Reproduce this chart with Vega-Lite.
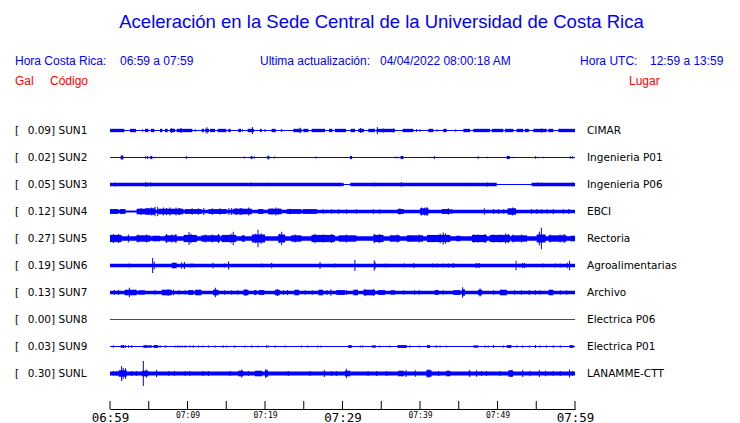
{
  "$schema": "https://vega.github.io/schema/vega-lite/v6.json",
  "width": 465,
  "height": 409,
  "autosize": {"type": "none"},
  "padding": {"left": 110, "top": 0, "right": 165, "bottom": 14},
  "background": "white",
  "config": {"view": {"stroke": null}},
  "datasets": {
    "stations": [
      {"code": "SUN1", "gal": 0.09, "place": "CIMAR"},
      {"code": "SUN2", "gal": 0.02, "place": "Ingenieria P01"},
      {"code": "SUN3", "gal": 0.05, "place": "Ingenieria P06"},
      {"code": "SUN4", "gal": 0.12, "place": "EBCI"},
      {"code": "SUN5", "gal": 0.27, "place": "Rectoria"},
      {"code": "SUN6", "gal": 0.19, "place": "Agroalimentarias"},
      {"code": "SUN7", "gal": 0.13, "place": "Archivo"},
      {"code": "SUN8", "gal": 0.00, "place": "Electrica P06"},
      {"code": "SUN9", "gal": 0.03, "place": "Electrica P01"},
      {"code": "SUNL", "gal": 0.30, "place": "LANAMME-CTT"}
    ],
    "axisTicks": [{"m":0},{"m":5},{"m":10},{"m":15},{"m":20},{"m":25},{"m":30},{"m":35},{"m":40},{"m":45},{"m":50},{"m":55},{"m":60}],
    "bands": [
      {"s":"SUN1","t0":0,"t1":1.85,"p":0.042},{"s":"SUN1","t0":2.58,"t1":3.35,"p":0.042},{"s":"SUN1","t0":4.52,"t1":4.95,"p":0.042},{"s":"SUN1","t0":5.29,"t1":5.72,"p":0.042},{"s":"SUN1","t0":6.45,"t1":6.75,"p":0.042},{"s":"SUN1","t0":7.1,"t1":7.44,"p":0.042},{"s":"SUN1","t0":7.74,"t1":8.39,"p":0.042},{"s":"SUN1","t0":8.6,"t1":10.62,"p":0.042},{"s":"SUN1","t0":11.83,"t1":12.13,"p":0.042},{"s":"SUN1","t0":12.26,"t1":12.77,"p":0.042},{"s":"SUN1","t0":12.9,"t1":13.55,"p":0.042},{"s":"SUN1","t0":13.89,"t1":15.01,"p":0.042},{"s":"SUN1","t0":15.27,"t1":15.57,"p":0.042},{"s":"SUN1","t0":16.56,"t1":16.9,"p":0.042},{"s":"SUN1","t0":17.76,"t1":18.58,"p":0.042},{"s":"SUN1","t0":19.35,"t1":19.57,"p":0.042},{"s":"SUN1","t0":20.86,"t1":21.38,"p":0.042},{"s":"SUN1","t0":23.66,"t1":24.73,"p":0.042},{"s":"SUN1","t0":24.95,"t1":25.59,"p":0.042},{"s":"SUN1","t0":26.02,"t1":27.74,"p":0.042},{"s":"SUN1","t0":28.26,"t1":28.69,"p":0.042},{"s":"SUN1","t0":29.03,"t1":30.45,"p":0.042},{"s":"SUN1","t0":31.05,"t1":31.61,"p":0.042},{"s":"SUN1","t0":32.04,"t1":32.77,"p":0.042},{"s":"SUN1","t0":33.33,"t1":34.19,"p":0.042},{"s":"SUN1","t0":34.41,"t1":36.77,"p":0.042},{"s":"SUN1","t0":37.76,"t1":39.14,"p":0.042},{"s":"SUN1","t0":41.08,"t1":41.72,"p":0.042},{"s":"SUN1","t0":43.01,"t1":43.44,"p":0.042},{"s":"SUN1","t0":45.59,"t1":46.45,"p":0.042},{"s":"SUN1","t0":46.88,"t1":49.03,"p":0.042},{"s":"SUN1","t0":49.25,"t1":50.75,"p":0.042},{"s":"SUN1","t0":50.97,"t1":52.04,"p":0.042},{"s":"SUN1","t0":52.47,"t1":53.33,"p":0.042},{"s":"SUN1","t0":53.55,"t1":53.98,"p":0.042},{"s":"SUN1","t0":54.62,"t1":56.34,"p":0.042},{"s":"SUN1","t0":56.56,"t1":57.2,"p":0.042},{"s":"SUN1","t0":57.85,"t1":60,"p":0.042},
      {"s":"SUN2","t0":1.38,"t1":1.72,"p":0.05},{"s":"SUN2","t0":5.2,"t1":5.46,"p":0.04},{"s":"SUN2","t0":18.15,"t1":18.37,"p":0.04},{"s":"SUN2","t0":20.3,"t1":20.56,"p":0.045},{"s":"SUN2","t0":30.97,"t1":31.23,"p":0.04},{"s":"SUN2","t0":37.5,"t1":37.85,"p":0.04},{"s":"SUN2","t0":51.2,"t1":51.6,"p":0.04},
      {"s":"SUN3","t0":0,"t1":30.0,"p":0.042},{"s":"SUN3","t0":31.0,"t1":49.9,"p":0.042},{"s":"SUN3","t0":54.4,"t1":60,"p":0.042},
      {"s":"SUN4","t0":0,"t1":1.94,"p":0.045},{"s":"SUN4","t0":1.94,"t1":3.44,"p":0.025},{"s":"SUN4","t0":3.44,"t1":60,"p":0.045},{"s":"SUN4","t0":0,"t1":1.08,"p":0.06},{"s":"SUN4","t0":1.3,"t1":2.0,"p":0.06},{"s":"SUN4","t0":3.44,"t1":4.52,"p":0.07},{"s":"SUN4","t0":4.52,"t1":5.81,"p":0.08},{"s":"SUN4","t0":6.24,"t1":9.46,"p":0.07},{"s":"SUN4","t0":9.68,"t1":11.83,"p":0.06},{"s":"SUN4","t0":12.7,"t1":15.05,"p":0.06},{"s":"SUN4","t0":15.9,"t1":18.3,"p":0.07},{"s":"SUN4","t0":19.1,"t1":19.8,"p":0.06},{"s":"SUN4","t0":20.4,"t1":22.15,"p":0.07},{"s":"SUN4","t0":22.8,"t1":24.7,"p":0.06},{"s":"SUN4","t0":24.9,"t1":26.7,"p":0.06},{"s":"SUN4","t0":37.1,"t1":37.9,"p":0.06},{"s":"SUN4","t0":40.0,"t1":41.1,"p":0.08},{"s":"SUN4","t0":42.8,"t1":43.9,"p":0.06},{"s":"SUN4","t0":51.3,"t1":52.4,"p":0.08},
      {"s":"SUN5","t0":0,"t1":60,"p":0.058},{"s":"SUN5","t0":0,"t1":1.5,"p":0.09},{"s":"SUN5","t0":3.4,"t1":5.2,"p":0.08},{"s":"SUN5","t0":5.5,"t1":6.45,"p":0.07},{"s":"SUN5","t0":7.1,"t1":8.6,"p":0.08},{"s":"SUN5","t0":9.5,"t1":11.2,"p":0.09},{"s":"SUN5","t0":11.8,"t1":14.2,"p":0.08},{"s":"SUN5","t0":14.4,"t1":16.3,"p":0.09},{"s":"SUN5","t0":17.0,"t1":17.4,"p":0.08},{"s":"SUN5","t0":18.3,"t1":20.0,"p":0.1},{"s":"SUN5","t0":21.7,"t1":22.6,"p":0.1},{"s":"SUN5","t0":23.4,"t1":24.7,"p":0.08},{"s":"SUN5","t0":26.0,"t1":29.0,"p":0.09},{"s":"SUN5","t0":29.5,"t1":31.8,"p":0.08},{"s":"SUN5","t0":34.0,"t1":35.3,"p":0.09},{"s":"SUN5","t0":36.1,"t1":37.4,"p":0.08},{"s":"SUN5","t0":38.3,"t1":40.4,"p":0.08},{"s":"SUN5","t0":40.9,"t1":43.9,"p":0.09},{"s":"SUN5","t0":44.7,"t1":45.2,"p":0.07},{"s":"SUN5","t0":46.7,"t1":48.6,"p":0.09},{"s":"SUN5","t0":49.0,"t1":51.6,"p":0.09},{"s":"SUN5","t0":51.8,"t1":53.8,"p":0.08},{"s":"SUN5","t0":55.05,"t1":56.2,"p":0.1},{"s":"SUN5","t0":56.6,"t1":58.9,"p":0.08},{"s":"SUN5","t0":59.4,"t1":60,"p":0.07},
      {"s":"SUN6","t0":0,"t1":60,"p":0.042},{"s":"SUN6","t0":7.96,"t1":8.6,"p":0.07},{"s":"SUN6","t0":47.1,"t1":47.5,"p":0.05},
      {"s":"SUN7","t0":0,"t1":60,"p":0.045},{"s":"SUN7","t0":1.9,"t1":3.44,"p":0.07},{"s":"SUN7","t0":3.66,"t1":4.5,"p":0.055},{"s":"SUN7","t0":6.67,"t1":7.96,"p":0.07},{"s":"SUN7","t0":10.1,"t1":10.75,"p":0.06},{"s":"SUN7","t0":11.0,"t1":11.8,"p":0.07},{"s":"SUN7","t0":13.3,"t1":14.0,"p":0.07},{"s":"SUN7","t0":17.2,"t1":17.85,"p":0.07},{"s":"SUN7","t0":18.6,"t1":18.9,"p":0.06},{"s":"SUN7","t0":19.2,"t1":19.9,"p":0.06},{"s":"SUN7","t0":21.3,"t1":21.9,"p":0.07},{"s":"SUN7","t0":23.8,"t1":24.4,"p":0.07},{"s":"SUN7","t0":26.9,"t1":27.5,"p":0.07},{"s":"SUN7","t0":29.2,"t1":30.3,"p":0.06},{"s":"SUN7","t0":31.4,"t1":32.0,"p":0.07},{"s":"SUN7","t0":32.7,"t1":34.2,"p":0.07},{"s":"SUN7","t0":34.6,"t1":35.5,"p":0.06},{"s":"SUN7","t0":36.2,"t1":36.8,"p":0.055},{"s":"SUN7","t0":41.9,"t1":42.4,"p":0.06},{"s":"SUN7","t0":44.3,"t1":45.2,"p":0.06},{"s":"SUN7","t0":45.4,"t1":45.8,"p":0.08},{"s":"SUN7","t0":47.5,"t1":48.0,"p":0.07},{"s":"SUN7","t0":50.3,"t1":51.2,"p":0.07},{"s":"SUN7","t0":56.6,"t1":57.2,"p":0.07},
      {"s":"SUN9","t0":1.4,"t1":1.85,"p":0.035},{"s":"SUN9","t0":4.3,"t1":4.86,"p":0.035},{"s":"SUN9","t0":4.9,"t1":5.4,"p":0.03},{"s":"SUN9","t0":5.6,"t1":6.2,"p":0.035},{"s":"SUN9","t0":30.75,"t1":31.2,"p":0.035},{"s":"SUN9","t0":33.8,"t1":34.3,"p":0.03},{"s":"SUN9","t0":37.1,"t1":38.3,"p":0.035},{"s":"SUN9","t0":40.9,"t1":41.3,"p":0.035},{"s":"SUN9","t0":46.9,"t1":47.5,"p":0.03},{"s":"SUN9","t0":51.2,"t1":51.8,"p":0.035},{"s":"SUN9","t0":59.3,"t1":59.8,"p":0.035},
      {"s":"SUNL","t0":0,"t1":60,"p":0.05},{"s":"SUNL","t0":1.1,"t1":2.15,"p":0.08},{"s":"SUNL","t0":4.1,"t1":4.95,"p":0.07},{"s":"SUNL","t0":16.56,"t1":17.2,"p":0.07},{"s":"SUNL","t0":18.7,"t1":19.6,"p":0.07},{"s":"SUNL","t0":20.0,"t1":20.4,"p":0.08},{"s":"SUNL","t0":30.3,"t1":31.0,"p":0.07},{"s":"SUNL","t0":37.2,"t1":37.9,"p":0.07},{"s":"SUNL","t0":40.8,"t1":41.5,"p":0.08},{"s":"SUNL","t0":43.4,"t1":43.9,"p":0.07},{"s":"SUNL","t0":46.3,"t1":46.5,"p":0.08},{"s":"SUNL","t0":51.4,"t1":52.0,"p":0.08}
    ],
    "spikes": [
      {"s":"SUN1","t":7.96,"p":0.06},{"s":"SUN1","t":9.16,"p":0.06},{"s":"SUN1","t":12.52,"p":0.08},{"s":"SUN1","t":18.37,"p":0.09},{"s":"SUN1","t":20.0,"p":0.04},{"s":"SUN1","t":22.15,"p":0.04},{"s":"SUN1","t":24.52,"p":0.07},{"s":"SUN1","t":32.34,"p":0.06},{"s":"SUN1","t":34.49,"p":0.09},{"s":"SUN1","t":35.27,"p":0.05},{"s":"SUN1","t":36.56,"p":0.05},{"s":"SUN1","t":39.57,"p":0.04},{"s":"SUN1","t":55.7,"p":0.05},{"s":"SUN1","t":4.2,"p":0.03},{"s":"SUN1","t":11.0,"p":0.03},{"s":"SUN1","t":17.1,"p":0.03},{"s":"SUN1","t":40.0,"p":0.03},{"s":"SUN1","t":42.2,"p":0.03},{"s":"SUN1","t":44.6,"p":0.03},{"s":"SUN1","t":54.0,"p":0.03},
      {"s":"SUN2","t":4.6,"p":0.03},{"s":"SUN2","t":4.86,"p":0.04},{"s":"SUN2","t":5.8,"p":0.02},{"s":"SUN2","t":9.85,"p":0.04},{"s":"SUN2","t":17.33,"p":0.025},{"s":"SUN2","t":18.6,"p":0.03},{"s":"SUN2","t":21.2,"p":0.025},{"s":"SUN2","t":26.6,"p":0.025},{"s":"SUN2","t":36.9,"p":0.025},{"s":"SUN2","t":37.2,"p":0.02},{"s":"SUN2","t":41.3,"p":0.02},{"s":"SUN2","t":41.85,"p":0.04},{"s":"SUN2","t":47.5,"p":0.03},{"s":"SUN2","t":48.7,"p":0.02},{"s":"SUN2","t":52.0,"p":0.02},{"s":"SUN2","t":54.9,"p":0.03},{"s":"SUN2","t":55.2,"p":0.02},{"s":"SUN2","t":55.9,"p":0.02},{"s":"SUN2","t":59.4,"p":0.03},{"s":"SUN2","t":59.7,"p":0.03},
      {"s":"SUN3","t":0.65,"p":0.05},{"s":"SUN3","t":4.6,"p":0.055},{"s":"SUN3","t":4.8,"p":0.05},{"s":"SUN3","t":5.25,"p":0.05},{"s":"SUN3","t":18.2,"p":0.05},{"s":"SUN3","t":20.3,"p":0.045},{"s":"SUN3","t":30.1,"p":0.045},{"s":"SUN3","t":34.1,"p":0.05},{"s":"SUN3","t":37.6,"p":0.055},{"s":"SUN3","t":46.5,"p":0.045},{"s":"SUN3","t":48.7,"p":0.05},{"s":"SUN3","t":55.2,"p":0.05},{"s":"SUN3","t":55.7,"p":0.045},{"s":"SUN3","t":59.7,"p":0.05},
      {"s":"SUN4","t":4.0,"p":0.09},{"s":"SUN4","t":4.9,"p":0.09},{"s":"SUN4","t":5.38,"p":0.1},{"s":"SUN4","t":5.81,"p":0.12},{"s":"SUN4","t":6.15,"p":0.11},{"s":"SUN4","t":6.88,"p":0.1},{"s":"SUN4","t":7.3,"p":0.09},{"s":"SUN4","t":7.74,"p":0.1},{"s":"SUN4","t":8.52,"p":0.1},{"s":"SUN4","t":8.9,"p":0.09},{"s":"SUN4","t":9.0,"p":0.085},{"s":"SUN4","t":10.6,"p":0.08},{"s":"SUN4","t":11.4,"p":0.08},{"s":"SUN4","t":12.1,"p":0.09},{"s":"SUN4","t":13.2,"p":0.08},{"s":"SUN4","t":14.2,"p":0.08},{"s":"SUN4","t":15.35,"p":0.09},{"s":"SUN4","t":15.7,"p":0.09},{"s":"SUN4","t":16.3,"p":0.09},{"s":"SUN4","t":16.8,"p":0.085},{"s":"SUN4","t":17.0,"p":0.08},{"s":"SUN4","t":17.9,"p":0.1},{"s":"SUN4","t":20.9,"p":0.08},{"s":"SUN4","t":21.4,"p":0.1},{"s":"SUN4","t":21.7,"p":0.08},{"s":"SUN4","t":23.2,"p":0.07},{"s":"SUN4","t":27.5,"p":0.055},{"s":"SUN4","t":28.6,"p":0.055},{"s":"SUN4","t":29.5,"p":0.055},{"s":"SUN4","t":30.5,"p":0.055},{"s":"SUN4","t":31.8,"p":0.055},{"s":"SUN4","t":34.0,"p":0.055},{"s":"SUN4","t":34.8,"p":0.055},{"s":"SUN4","t":37.4,"p":0.08},{"s":"SUN4","t":40.2,"p":0.1},{"s":"SUN4","t":40.6,"p":0.1},{"s":"SUN4","t":40.9,"p":0.11},{"s":"SUN4","t":43.65,"p":0.08},{"s":"SUN4","t":44.1,"p":0.06},{"s":"SUN4","t":48.3,"p":0.08},{"s":"SUN4","t":49.5,"p":0.06},{"s":"SUN4","t":50.1,"p":0.06},{"s":"SUN4","t":50.8,"p":0.055},{"s":"SUN4","t":51.96,"p":0.1},{"s":"SUN4","t":54.4,"p":0.06},{"s":"SUN4","t":55.1,"p":0.06},{"s":"SUN4","t":55.7,"p":0.055},{"s":"SUN4","t":56.4,"p":0.055},{"s":"SUN4","t":57.2,"p":0.06},{"s":"SUN4","t":58.5,"p":0.055},{"s":"SUN4","t":59.2,"p":0.06},
      {"s":"SUN5","t":0.43,"p":0.11},{"s":"SUN5","t":1.1,"p":0.11},{"s":"SUN5","t":2.37,"p":0.1},{"s":"SUN5","t":3.6,"p":0.1},{"s":"SUN5","t":4.7,"p":0.1},{"s":"SUN5","t":7.3,"p":0.11},{"s":"SUN5","t":8.0,"p":0.1},{"s":"SUN5","t":8.5,"p":0.11},{"s":"SUN5","t":10.2,"p":0.16},{"s":"SUN5","t":10.45,"p":0.12},{"s":"SUN5","t":12.3,"p":0.1},{"s":"SUN5","t":13.2,"p":0.1},{"s":"SUN5","t":14.0,"p":0.11},{"s":"SUN5","t":15.6,"p":0.12},{"s":"SUN5","t":15.9,"p":0.17},{"s":"SUN5","t":18.8,"p":0.12},{"s":"SUN5","t":19.1,"p":0.22},{"s":"SUN5","t":19.5,"p":0.13},{"s":"SUN5","t":21.9,"p":0.12},{"s":"SUN5","t":22.15,"p":0.17},{"s":"SUN5","t":23.9,"p":0.1},{"s":"SUN5","t":26.45,"p":0.12},{"s":"SUN5","t":27.5,"p":0.1},{"s":"SUN5","t":28.6,"p":0.11},{"s":"SUN5","t":30.5,"p":0.1},{"s":"SUN5","t":34.1,"p":0.12},{"s":"SUN5","t":34.8,"p":0.11},{"s":"SUN5","t":37.1,"p":0.1},{"s":"SUN5","t":38.7,"p":0.09},{"s":"SUN5","t":39.9,"p":0.1},{"s":"SUN5","t":42.6,"p":0.12},{"s":"SUN5","t":43.0,"p":0.15},{"s":"SUN5","t":43.3,"p":0.13},{"s":"SUN5","t":47.0,"p":0.1},{"s":"SUN5","t":47.5,"p":0.1},{"s":"SUN5","t":48.4,"p":0.11},{"s":"SUN5","t":49.5,"p":0.1},{"s":"SUN5","t":50.3,"p":0.1},{"s":"SUN5","t":51.06,"p":0.13},{"s":"SUN5","t":51.4,"p":0.11},{"s":"SUN5","t":52.0,"p":0.1},{"s":"SUN5","t":53.1,"p":0.1},{"s":"SUN5","t":55.4,"p":0.17},{"s":"SUN5","t":55.66,"p":0.27},{"s":"SUN5","t":56.8,"p":0.1},{"s":"SUN5","t":58.07,"p":0.1},{"s":"SUN5","t":58.6,"p":0.11},
      {"s":"SUN6","t":2.5,"p":0.05},{"s":"SUN6","t":5.5,"p":0.19},{"s":"SUN6","t":5.7,"p":0.1},{"s":"SUN6","t":9.25,"p":0.08},{"s":"SUN6","t":9.6,"p":0.09},{"s":"SUN6","t":10.45,"p":0.05},{"s":"SUN6","t":10.75,"p":0.05},{"s":"SUN6","t":13.3,"p":0.07},{"s":"SUN6","t":14.8,"p":0.05},{"s":"SUN6","t":15.3,"p":0.1},{"s":"SUN6","t":19.6,"p":0.05},{"s":"SUN6","t":20.86,"p":0.07},{"s":"SUN6","t":27.1,"p":0.09},{"s":"SUN6","t":29.0,"p":0.05},{"s":"SUN6","t":31.6,"p":0.14},{"s":"SUN6","t":34.1,"p":0.13},{"s":"SUN6","t":34.2,"p":0.08},{"s":"SUN6","t":35.6,"p":0.05},{"s":"SUN6","t":38.0,"p":0.05},{"s":"SUN6","t":39.2,"p":0.06},{"s":"SUN6","t":41.6,"p":0.05},{"s":"SUN6","t":42.2,"p":0.05},{"s":"SUN6","t":43.0,"p":0.05},{"s":"SUN6","t":43.65,"p":0.05},{"s":"SUN6","t":44.3,"p":0.06},{"s":"SUN6","t":47.65,"p":0.06},{"s":"SUN6","t":52.4,"p":0.12},{"s":"SUN6","t":52.9,"p":0.05},{"s":"SUN6","t":53.25,"p":0.07},{"s":"SUN6","t":53.5,"p":0.06},{"s":"SUN6","t":55.9,"p":0.05},{"s":"SUN6","t":57.5,"p":0.05},{"s":"SUN6","t":58.07,"p":0.05},{"s":"SUN6","t":59.0,"p":0.07},{"s":"SUN6","t":59.3,"p":0.12},
      {"s":"SUN7","t":0.55,"p":0.06},{"s":"SUN7","t":1.1,"p":0.06},{"s":"SUN7","t":2.5,"p":0.12},{"s":"SUN7","t":5.8,"p":0.055},{"s":"SUN7","t":7.5,"p":0.08},{"s":"SUN7","t":8.2,"p":0.07},{"s":"SUN7","t":8.9,"p":0.055},{"s":"SUN7","t":9.7,"p":0.055},{"s":"SUN7","t":13.6,"p":0.12},{"s":"SUN7","t":14.8,"p":0.055},{"s":"SUN7","t":15.7,"p":0.055},{"s":"SUN7","t":16.5,"p":0.055},{"s":"SUN7","t":17.5,"p":0.08},{"s":"SUN7","t":21.6,"p":0.09},{"s":"SUN7","t":22.4,"p":0.055},{"s":"SUN7","t":22.9,"p":0.06},{"s":"SUN7","t":25.2,"p":0.055},{"s":"SUN7","t":26.1,"p":0.055},{"s":"SUN7","t":28.0,"p":0.06},{"s":"SUN7","t":28.5,"p":0.08},{"s":"SUN7","t":30.5,"p":0.06},{"s":"SUN7","t":32.9,"p":0.09},{"s":"SUN7","t":34.0,"p":0.08},{"s":"SUN7","t":37.9,"p":0.055},{"s":"SUN7","t":39.3,"p":0.055},{"s":"SUN7","t":39.9,"p":0.055},{"s":"SUN7","t":43.0,"p":0.055},{"s":"SUN7","t":45.5,"p":0.13},{"s":"SUN7","t":47.75,"p":0.1},{"s":"SUN7","t":49.5,"p":0.055},{"s":"SUN7","t":52.2,"p":0.055},{"s":"SUN7","t":53.1,"p":0.055},{"s":"SUN7","t":54.1,"p":0.06},{"s":"SUN7","t":54.9,"p":0.055},{"s":"SUN7","t":55.5,"p":0.055},{"s":"SUN7","t":58.1,"p":0.055},{"s":"SUN7","t":58.9,"p":0.055},
      {"s":"SUN9","t":0.43,"p":0.03},{"s":"SUN9","t":2.0,"p":0.03},{"s":"SUN9","t":2.4,"p":0.03},{"s":"SUN9","t":2.8,"p":0.03},{"s":"SUN9","t":6.45,"p":0.03},{"s":"SUN9","t":7.2,"p":0.03},{"s":"SUN9","t":8.4,"p":0.025},{"s":"SUN9","t":8.7,"p":0.025},{"s":"SUN9","t":9.0,"p":0.025},{"s":"SUN9","t":9.3,"p":0.025},{"s":"SUN9","t":9.7,"p":0.03},{"s":"SUN9","t":10.3,"p":0.025},{"s":"SUN9","t":10.75,"p":0.03},{"s":"SUN9","t":11.4,"p":0.025},{"s":"SUN9","t":12.0,"p":0.025},{"s":"SUN9","t":12.7,"p":0.025},{"s":"SUN9","t":13.55,"p":0.025},{"s":"SUN9","t":14.6,"p":0.03},{"s":"SUN9","t":15.05,"p":0.025},{"s":"SUN9","t":16.1,"p":0.03},{"s":"SUN9","t":17.4,"p":0.025},{"s":"SUN9","t":18.3,"p":0.03},{"s":"SUN9","t":19.1,"p":0.025},{"s":"SUN9","t":20.2,"p":0.03},{"s":"SUN9","t":20.4,"p":0.025},{"s":"SUN9","t":21.3,"p":0.03},{"s":"SUN9","t":22.6,"p":0.025},{"s":"SUN9","t":24.7,"p":0.025},{"s":"SUN9","t":25.5,"p":0.025},{"s":"SUN9","t":26.8,"p":0.025},{"s":"SUN9","t":27.2,"p":0.025},{"s":"SUN9","t":32.3,"p":0.025},{"s":"SUN9","t":32.6,"p":0.025},{"s":"SUN9","t":34.8,"p":0.025},{"s":"SUN9","t":36.1,"p":0.025},{"s":"SUN9","t":38.7,"p":0.03},{"s":"SUN9","t":39.9,"p":0.025},{"s":"SUN9","t":42.1,"p":0.03},{"s":"SUN9","t":42.6,"p":0.025},{"s":"SUN9","t":43.4,"p":0.025},{"s":"SUN9","t":48.4,"p":0.03},{"s":"SUN9","t":48.8,"p":0.025},{"s":"SUN9","t":49.5,"p":0.035},{"s":"SUN9","t":50.8,"p":0.03},{"s":"SUN9","t":52.5,"p":0.03},{"s":"SUN9","t":53.25,"p":0.03},{"s":"SUN9","t":54.1,"p":0.025},{"s":"SUN9","t":54.9,"p":0.035},{"s":"SUN9","t":55.5,"p":0.03},{"s":"SUN9","t":56.3,"p":0.03},{"s":"SUN9","t":57.2,"p":0.03},{"s":"SUN9","t":58.1,"p":0.03},
      {"s":"SUNL","t":0.43,"p":0.06},{"s":"SUNL","t":0.86,"p":0.06},{"s":"SUNL","t":1.5,"p":0.19},{"s":"SUNL","t":1.7,"p":0.14},{"s":"SUNL","t":2.0,"p":0.13},{"s":"SUNL","t":2.8,"p":0.06},{"s":"SUNL","t":3.4,"p":0.06},{"s":"SUNL","t":4.3,"p":0.31},{"s":"SUNL","t":4.7,"p":0.1},{"s":"SUNL","t":6.0,"p":0.09},{"s":"SUNL","t":7.6,"p":0.06},{"s":"SUNL","t":8.3,"p":0.06},{"s":"SUNL","t":9.7,"p":0.06},{"s":"SUNL","t":10.3,"p":0.06},{"s":"SUNL","t":12.0,"p":0.06},{"s":"SUNL","t":12.7,"p":0.06},{"s":"SUNL","t":15.5,"p":0.065},{"s":"SUNL","t":17.0,"p":0.1},{"s":"SUNL","t":17.85,"p":0.06},{"s":"SUNL","t":20.1,"p":0.11},{"s":"SUNL","t":23.0,"p":0.065},{"s":"SUNL","t":25.8,"p":0.06},{"s":"SUNL","t":27.65,"p":0.09},{"s":"SUNL","t":28.6,"p":0.06},{"s":"SUNL","t":29.2,"p":0.065},{"s":"SUNL","t":30.5,"p":0.12},{"s":"SUNL","t":33.3,"p":0.065},{"s":"SUNL","t":34.4,"p":0.065},{"s":"SUNL","t":35.7,"p":0.06},{"s":"SUNL","t":38.2,"p":0.09},{"s":"SUNL","t":39.4,"p":0.08},{"s":"SUNL","t":41.0,"p":0.1},{"s":"SUNL","t":41.2,"p":0.1},{"s":"SUNL","t":42.4,"p":0.065},{"s":"SUNL","t":47.3,"p":0.08},{"s":"SUNL","t":47.95,"p":0.065},{"s":"SUNL","t":48.6,"p":0.065},{"s":"SUNL","t":50.3,"p":0.065},{"s":"SUNL","t":51.8,"p":0.09},{"s":"SUNL","t":53.25,"p":0.09},{"s":"SUNL","t":54.2,"p":0.07},{"s":"SUNL","t":55.4,"p":0.09},{"s":"SUNL","t":56.2,"p":0.07},{"s":"SUNL","t":57.2,"p":0.065},{"s":"SUNL","t":58.1,"p":0.065},{"s":"SUNL","t":59.3,"p":0.1},{"s":"SUNL","t":59.7,"p":0.065}
    ]
  },
  "layer": [
    {
      "layer": [
        {
          "data": {"name": "stations"},
          "mark": {"type": "rule", "strokeWidth": 1},
          "encoding": {
            "x": {
              "datum": 0, "type": "quantitative",
              "scale": {"domain": [0, 60], "nice": false, "zero": false},
              "axis": {
                "orient": "top", "offset": -409,
                "title": null, "grid": false,
                "values": [0, 5, 10, 15, 20, 25, 30, 35, 40, 45, 50, 55, 60],
                "domain": true, "domainColor": "#000000", "domainWidth": 1,
                "ticks": false,
                "labelExpr": "datum.value % 10 === 0 ? timeFormat(datetime(2022, 3, 4, 6, 59 + datum.value), '%H:%M') : ''",
                "labelFlush": false, "labelOverlap": false, "labelPadding": -2, "labelBaseline": "top",
                "labelColor": "#000000", "labelFont": "DejaVu Sans Mono",
                "labelFontSize": {"condition": {"test": "datum.value % 30 === 0", "value": 12.5}, "value": 8}
              }
            },
            "x2": {"datum": 60},
            "y": {"field": "code", "type": "nominal", "scale": {"type": "point", "domain": ["SUN1","SUN2","SUN3","SUN4","SUN5","SUN6","SUN7","SUN8","SUN9","SUNL"], "range": [130.5, 373.5], "padding": 0}, "axis": null},
            "color": {"condition": {"test": "datum.gal === 0", "value": "#ff0000"}, "value": "#0000ff"}
          }
        },
        {
          "data": {"name": "bands"},
          "mark": {"type": "rule", "color": "#0000ff", "strokeCap": "butt"},
          "encoding": {
            "x": {"field": "t0", "type": "quantitative"},
            "x2": {"field": "t1"},
            "y": {"field": "s", "type": "nominal", "axis": null},
            "strokeWidth": {"field": "p", "type": "quantitative", "scale": {"domain": [0, 1], "range": [0, 80]}, "legend": null}
          }
        },
        {
          "data": {"name": "spikes"},
          "mark": {"type": "tick", "color": "#0000ff", "thickness": 1, "opacity": 1},
          "encoding": {
            "x": {"field": "t", "type": "quantitative"},
            "y": {"field": "s", "type": "nominal", "axis": null},
            "size": {"field": "p", "type": "quantitative", "scale": {"domain": [0, 1], "range": [0, 80]}, "legend": null}
          }
        },
        {
          "data": {"name": "stations"},
          "transform": [{"calculate": "'[\u2002\u00a0' + format(datum.gal, '.2f') + '] ' + datum.code", "as": "lbl"}],
          "mark": {"type": "text", "align": "left", "baseline": "middle", "font": "DejaVu Sans", "fontSize": 10.5, "color": "#000000"},
          "encoding": {
            "x": {"datum": -12.26},
            "y": {"field": "code", "type": "nominal", "axis": null},
            "text": {"field": "lbl"}
          }
        },
        {
          "data": {"name": "stations"},
          "mark": {"type": "text", "align": "left", "baseline": "middle", "font": "DejaVu Sans", "fontSize": 10.5, "color": "#000000"},
          "encoding": {
            "x": {"datum": 61.55},
            "y": {"field": "code", "type": "nominal", "axis": null},
            "text": {"field": "place"}
          }
        }
      ]
    },
    {
      "data": {"name": "axisTicks"},
      "mark": {"type": "rule", "color": "#000000", "strokeWidth": 1},
      "encoding": {
        "x": {"field": "m", "type": "quantitative"},
        "y": {"datum": 0, "type": "quantitative", "scale": {"domain": [0, 1], "range": [409.5, 401]}, "axis": null},
        "y2": {"datum": 1}
      }
    },
    {
      "data": {"values": [{}]},
      "layer": [
        {"mark": {"type": "text", "text": "Aceleración en la Sede Central de la Universidad de Costa Rica", "font": "Liberation Sans", "fontSize": 18.5, "color": "#0000ff", "align": "center", "baseline": "middle"},
         "encoding": {"x": {"datum": 35.03}, "y": {"datum": 0, "type": "quantitative", "scale": {"domain": [0, 3], "range": [22, 81]}, "axis": null}}},
        {"mark": {"type": "text", "text": "Hora Costa Rica:", "font": "Liberation Sans", "fontSize": 12, "color": "#0000ff", "align": "left", "baseline": "middle"},
         "encoding": {"x": {"datum": -12.26}, "y": {"datum": 2, "type": "quantitative", "scale": {"domain": [0, 3], "range": [22, 81]}, "axis": null}}},
        {"mark": {"type": "text", "text": "06:59 a 07:59", "font": "Liberation Sans", "fontSize": 12, "color": "#0000ff", "align": "left", "baseline": "middle"},
         "encoding": {"x": {"datum": 1.29}, "y": {"datum": 2, "type": "quantitative", "scale": {"domain": [0, 3], "range": [22, 81]}, "axis": null}}},
        {"mark": {"type": "text", "text": "Ultima actualización:", "font": "Liberation Sans", "fontSize": 12, "color": "#0000ff", "align": "left", "baseline": "middle"},
         "encoding": {"x": {"datum": 19.35}, "y": {"datum": 2, "type": "quantitative", "scale": {"domain": [0, 3], "range": [22, 81]}, "axis": null}}},
        {"mark": {"type": "text", "text": "04/04/2022 08:00:18 AM", "font": "Liberation Sans", "fontSize": 12, "color": "#0000ff", "align": "left", "baseline": "middle"},
         "encoding": {"x": {"datum": 34.84}, "y": {"datum": 2, "type": "quantitative", "scale": {"domain": [0, 3], "range": [22, 81]}, "axis": null}}},
        {"mark": {"type": "text", "text": "Hora UTC:", "font": "Liberation Sans", "fontSize": 12, "color": "#0000ff", "align": "left", "baseline": "middle"},
         "encoding": {"x": {"datum": 60.65}, "y": {"datum": 2, "type": "quantitative", "scale": {"domain": [0, 3], "range": [22, 81]}, "axis": null}}},
        {"mark": {"type": "text", "text": "12:59 a 13:59", "font": "Liberation Sans", "fontSize": 12, "color": "#0000ff", "align": "left", "baseline": "middle"},
         "encoding": {"x": {"datum": 69.68}, "y": {"datum": 2, "type": "quantitative", "scale": {"domain": [0, 3], "range": [22, 81]}, "axis": null}}},
        {"mark": {"type": "text", "text": "Gal", "font": "Liberation Sans", "fontSize": 12, "color": "#ff0000", "align": "left", "baseline": "middle"},
         "encoding": {"x": {"datum": -12.26}, "y": {"datum": 3, "type": "quantitative", "scale": {"domain": [0, 3], "range": [22, 81]}, "axis": null}}},
        {"mark": {"type": "text", "text": "Código", "font": "Liberation Sans", "fontSize": 12, "color": "#ff0000", "align": "left", "baseline": "middle"},
         "encoding": {"x": {"datum": -7.74}, "y": {"datum": 3, "type": "quantitative", "scale": {"domain": [0, 3], "range": [22, 81]}, "axis": null}}},
        {"mark": {"type": "text", "text": "Lugar", "font": "Liberation Sans", "fontSize": 12, "color": "#ff0000", "align": "left", "baseline": "middle"},
         "encoding": {"x": {"datum": 66.97}, "y": {"datum": 3, "type": "quantitative", "scale": {"domain": [0, 3], "range": [22, 81]}, "axis": null}}}
      ]
    }
  ],
  "resolve": {"scale": {"y": "independent"}}
}
